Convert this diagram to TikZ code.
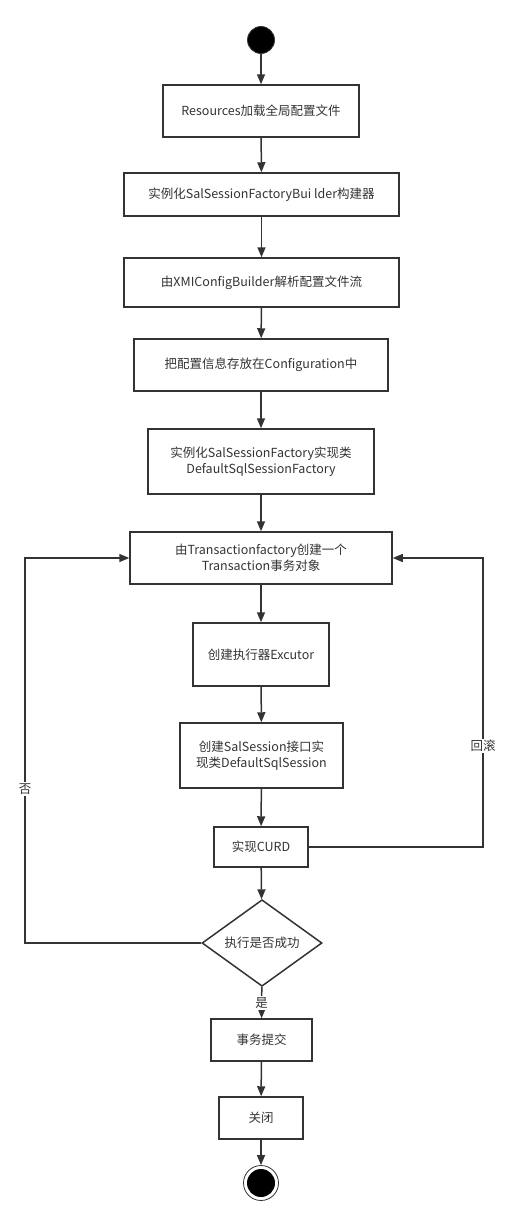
\documentclass[tikz,border=0pt]{standalone}
\usepackage{fontspec}
\setmainfont{Noto Sans CJK SC}
\usetikzlibrary{shapes.geometric,arrows.meta}
\definecolor{ink}{HTML}{333333}
\begin{document}
\begin{tikzpicture}[x=1pt,y=-1pt,
  every node/.style={font=\fontsize{12.5}{16}\selectfont, text=ink},
  box/.style={draw=ink, line width=1.5pt, rectangle, align=center, inner sep=2pt},
  dia/.style={draw=ink, line width=1.5pt, diamond, inner sep=0pt, minimum width=120pt, minimum height=80pt},
  flow/.style={draw=ink, line width=1.5pt, -{Triangle[length=10pt,width=8pt]}},
  lbl/.style={fill=white, inner sep=1.5pt}
]
\useasboundingbox (0,0) rectangle (511,1226);
\node[circle, fill=black, draw=ink, line width=0.8pt, minimum size=27pt, inner sep=0pt] (start) at (261,40) {};
\node[box, minimum width=196pt, minimum height=52pt] (b1) at (261,111) {Resources加载全局配置文件};
\node[box, minimum width=275pt, minimum height=43pt] (b2) at (261.5,194.5) {实例化SalSessionFactoryBui lder构建器};
\node[box, minimum width=275pt, minimum height=49pt] (b3) at (261.5,282.5) {由XMIConfigBuilder解析配置文件流};
\node[box, minimum width=254pt, minimum height=52pt] (b4) at (261,365) {把配置信息存放在Configuration中};
\node[box, minimum width=226pt, minimum height=65pt] (b5) at (261,461.5) {实例化SalSessionFactory实现类\\DefaultSqlSessionFactory};
\node[box, minimum width=262pt, minimum height=52pt] (b6) at (261,558) {由Transactionfactory创建一个\\Transaction事务对象};
\node[box, minimum width=136pt, minimum height=63pt] (b7) at (261,654.5) {创建执行器Excutor};
\node[box, minimum width=163pt, minimum height=65pt] (b8) at (261.5,755.5) {创建SalSession接口实\\现类DefaultSqlSession};
\node[box, minimum width=94pt, minimum height=40pt] (b9) at (261,847) {实现CURD};
\node[dia] (d) at (262,943) {执行是否成功};
\node[box, minimum width=101pt, minimum height=42pt] (b10) at (261.5,1040) {事务提交};
\node[box, minimum width=84pt, minimum height=42pt] (b11) at (261,1118) {关闭};
\node[circle, draw=ink, line width=0.8pt, minimum size=35pt, inner sep=0pt] (end) at (261,1183) {};
\fill[black] (end.center) circle (14pt);
\coordinate (lc) at (25,943);
\coordinate (rc) at (483,847);

\draw[flow] (start) -- (b1);
\draw[flow] (b1) -- (b2);
\draw[flow] (b2) -- (b3);
\draw[flow] (b3) -- (b4);
\draw[flow] (b4) -- (b5);
\draw[flow] (b5) -- (b6);
\draw[flow] (b6) -- (b7);
\draw[flow] (b7) -- (b8);
\draw[flow] (b8) -- (b9);
\draw[flow] (b9) -- (d);
\draw[flow] (d) -- node[lbl, pos=0.5] {是} (b10);
\draw[flow] (b10) -- (b11);
\draw[flow] (b11) -- (end);
\draw[flow] (d.west) -- (lc) |- node[lbl, pos=0.2] {否} (b6.west);
\draw[flow] (b9.east) -- (rc) |- node[lbl, pos=0.175] {回滚} (b6.east);
\end{tikzpicture}
\end{document}
